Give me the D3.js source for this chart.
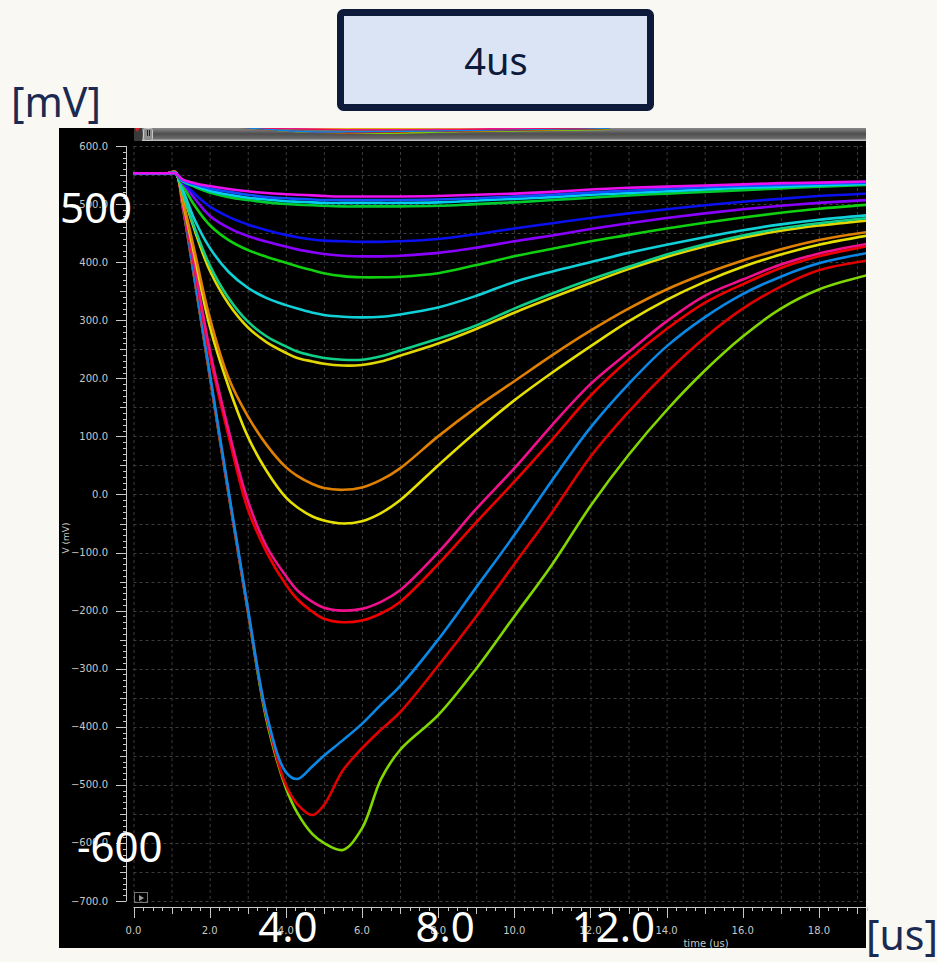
<!DOCTYPE html>
<html>
<head>
<meta charset="utf-8">
<script src="https://cdn.jsdelivr.net/npm/d3@7"></script>
<style>
  html, body { margin: 0; padding: 0; background: #faf8f2; }
  svg { display: block; }
</style>
</head>
<body>
<svg></svg>
<script>
const w = 937;
const h = 962;

// time points (us) shared by every trace
const times = [0, 0.9, 1.1, 1.3, 1.6, 2, 2.5, 3, 3.5, 4, 4.3, 4.7, 5, 5.5, 6, 6.5, 7, 8, 9, 10, 11, 12, 13, 14, 15, 16, 17, 18, 19.3];

// traces in mV
const magentaTop = [553, 553, 553, 542, 536, 531, 526, 522, 519, 517, 516, 515, 514, 513, 513, 513, 513, 514, 516, 518, 521, 525, 528, 530, 532, 534, 536, 537, 539];
const blueTop = [553, 553, 553, 541, 534, 527, 521, 516, 512, 510, 509, 508, 507, 507, 507, 507, 507, 508, 510, 513, 516, 520, 523, 526, 529, 531, 533, 535, 537];
const cyanTop = [553, 553, 553, 540, 532, 523, 516, 511, 508, 505, 504, 503, 502, 502, 502, 502, 502, 503, 506, 509, 512, 516, 519, 522, 525, 528, 530, 532, 535];
const greenTop = [553, 553, 553, 539, 530, 520, 512, 507, 503, 500, 499, 498, 497, 496, 496, 496, 496, 497, 500, 503, 507, 511, 515, 518, 521, 524, 527, 530, 533];
const blue = [553, 553, 553, 538, 518, 496, 478, 465, 455, 447, 443, 439, 437, 436, 435, 435, 436, 440, 448, 458, 467, 476, 484, 491, 498, 504, 509, 514, 518];
const violet = [553, 553, 553, 536, 510, 480, 459, 445, 435, 427, 422, 417, 414, 411, 410, 410, 411, 416, 425, 436, 446, 457, 467, 476, 484, 491, 497, 502, 507];
const green = [553, 553, 553, 532, 498, 464, 438, 421, 409, 399, 393, 386, 381, 376, 374, 374, 375, 381, 395, 410, 423, 436, 447, 458, 468, 477, 485, 492, 499];
const cyan = [553, 553, 553, 524, 474, 425, 383, 356, 338, 326, 320, 313, 309, 306, 305, 306, 310, 322, 342, 366, 384, 400, 416, 430, 443, 455, 465, 473, 481];
const teal = [553, 553, 553, 518, 460, 395, 338, 298, 272, 255, 246, 239, 235, 232, 232, 238, 248, 268, 291, 320, 346, 370, 392, 413, 431, 446, 458, 467, 476];
const yellow = [553, 553, 553, 517, 456, 386, 328, 288, 262, 244, 235, 229, 225, 222, 223, 229, 239, 260, 285, 313, 339, 364, 388, 409, 427, 442, 454, 463, 472];
const orange = [553, 553, 555, 505, 420, 305, 200, 135, 85, 47, 32, 18, 11, 8, 12, 25, 45, 100, 150, 195, 240, 282, 320, 353, 380, 403, 422, 438, 452];
const yellow2 = [553, 553, 555, 503, 412, 290, 185, 100, 40, -5, -22, -38, -45, -50, -46, -32, -10, 50, 108, 162, 210, 255, 298, 335, 366, 392, 413, 430, 446];
const pink = [553, 553, 555, 498, 395, 250, 110, -10, -90, -140, -165, -185, -195, -200, -197, -185, -165, -100, -25, 45, 120, 190, 245, 298, 342, 370, 396, 415, 432];
const red = [553, 553, 555, 496, 390, 240, 100, -25, -100, -155, -180, -202, -214, -220, -217, -205, -185, -120, -48, 22, 95, 170, 232, 285, 330, 362, 390, 410, 428];
const skyBlue = [553, 553, 555, 494, 375, 210, 5, -195, -380, -478, -490, -468, -450, -423, -395, -362, -330, -250, -160, -70, 25, 115, 190, 255, 305, 345, 375, 398, 416];
const deepRed = [553, 553, 555, 493, 372, 205, 0, -200, -385, -500, -533, -552, -535, -475, -437, -405, -375, -295, -210, -120, -30, 65, 142, 210, 270, 320, 358, 386, 403];
const limeGreen = [553, 553, 555, 493, 372, 205, 0, -200, -390, -505, -548, -585, -600, -612, -575, -490, -440, -380, -300, -210, -120, -20, 68, 145, 213, 272, 320, 353, 378];

const traces = [limeGreen, deepRed, skyBlue, red, pink, yellow2, orange, yellow, teal, cyan, green, violet, blue, greenTop, cyanTop, blueTop, magentaTop];
const traceColors = ['#80d800', '#e00000', '#0a88e8', '#ee0000', '#f0108c', '#e6e000', '#e08000', '#e2d600', '#10d088', '#10d0d8', '#10d010', '#8a00ff', '#0a10f0', '#00cc30', '#00d0f0', '#1050ff', '#ee10ee'];

const yTicks = d3.range(-700, 601, 100);
const xTicks = d3.range(0, 19, 2);
const bigYLabels = ['500', '-600'];
const bigYValues = [500, -600];
const bigXLabels = ['4.0', '8.0', '12.0'];
const bigXValues = [4, 8, 12];

const svg = d3.select('svg').attr('width', w).attr('height', h);

svg.append('rect').attr('width', w).attr('height', h).attr('fill', '#faf8f2');

// title box
svg
  .append('rect')
  .attr('x', 340.5)
  .attr('y', 12.5)
  .attr('width', 310)
  .attr('height', 95)
  .attr('rx', 3)
  .attr('fill', '#dbe4f5')
  .attr('stroke', '#0d1a3a')
  .attr('stroke-width', 7);

svg
  .append('text')
  .text('4us')
  .attr('x', 496)
  .attr('y', 75)
  .attr('text-anchor', 'middle')
  .style('font-family', 'Noto Sans')
  .style('font-size', '38px')
  .style('fill', '#0d1a3a');

svg
  .append('text')
  .text('[mV]')
  .attr('x', 11)
  .attr('y', 117)
  .style('font-family', 'Noto Sans')
  .style('font-size', '41px')
  .style('fill', '#1a2a50');

// black scope panel
svg.append('rect').attr('x', 59).attr('y', 128).attr('width', 807).attr('height', 820).attr('fill', '#000');

const x = d3.scaleLinear().domain([0, 19.25]).range([133.5, 866.5]);
const y = d3.scaleLinear().domain([-700, 600]).range([901, 146]);

const defs = svg.append('defs');
defs
  .append('clipPath')
  .attr('id', 'plotClip')
  .append('rect')
  .attr('x', 133)
  .attr('y', 140)
  .attr('width', 733)
  .attr('height', 770);

defs
  .append('clipPath')
  .attr('id', 'miniClip')
  .append('rect')
  .attr('x', 230)
  .attr('y', 128)
  .attr('width', 380)
  .attr('height', 6);

const barGrad = defs
  .append('linearGradient')
  .attr('id', 'barGrad')
  .attr('x1', 0)
  .attr('y1', 0)
  .attr('x2', 0)
  .attr('y2', 1);
barGrad.append('stop').attr('offset', '0%').attr('stop-color', '#8a8a8a');
barGrad.append('stop').attr('offset', '45%').attr('stop-color', '#4e4e4e');
barGrad.append('stop').attr('offset', '80%').attr('stop-color', '#6a6a6a');
barGrad.append('stop').attr('offset', '100%').attr('stop-color', '#d0d0d0');

// grid
const grid = svg.append('g').attr('stroke', '#3c3c3c').attr('stroke-dasharray', '3,3').attr('stroke-width', 1);
grid
  .selectAll('.vgrid')
  .data(d3.range(0, 20, 1))
  .enter()
  .append('line')
  .attr('x1', d => x(d) + 0.5)
  .attr('x2', d => x(d) + 0.5)
  .attr('y1', y(600))
  .attr('y2', y(-700));
grid
  .selectAll('.hgrid')
  .data(d3.range(-700, 601, 50))
  .enter()
  .append('line')
  .attr('x1', x(0))
  .attr('x2', 866)
  .attr('y1', d => Math.round(y(d)) + 0.5)
  .attr('y2', d => Math.round(y(d)) + 0.5);

// y axis
const axisColor = '#c8c8c8';
svg
  .append('line')
  .attr('x1', 126.5)
  .attr('x2', 126.5)
  .attr('y1', y(600))
  .attr('y2', y(-700))
  .attr('stroke', axisColor);
svg
  .selectAll('.ytick')
  .data(d3.range(-700, 601, 10))
  .enter()
  .append('line')
  .attr('x1', d => (d % 100 === 0 ? 116 : d % 50 === 0 ? 120 : 123))
  .attr('x2', 126.5)
  .attr('y1', d => Math.round(y(d)) + 0.5)
  .attr('y2', d => Math.round(y(d)) + 0.5)
  .attr('stroke', axisColor);
svg
  .selectAll('.ylabel')
  .data(yTicks)
  .enter()
  .append('text')
  .text(d => d3.format('.1f')(d))
  .attr('x', 108)
  .attr('y', d => y(d) + 3.5)
  .attr('text-anchor', 'end')
  .style('font-family', 'DejaVu Sans')
  .style('font-size', '10px')
  .style('fill', axisColor);

svg
  .append('text')
  .text('V (mV)')
  .attr('transform', `translate(69, ${y(-75)}) rotate(-90)`)
  .attr('text-anchor', 'middle')
  .style('font-family', 'DejaVu Sans')
  .style('font-size', '9px')
  .style('fill', axisColor);

// x axis
svg
  .append('line')
  .attr('x1', x(0))
  .attr('x2', 866)
  .attr('y1', 907.5)
  .attr('y2', 907.5)
  .attr('stroke', axisColor);
svg
  .selectAll('.xtick')
  .data(d3.range(0, 19.3, 0.25))
  .enter()
  .append('line')
  .attr('x1', d => Math.round(x(d)) + 0.5)
  .attr('x2', d => Math.round(x(d)) + 0.5)
  .attr('y1', 907.5)
  .attr('y2', d => (d % 2 === 0 ? 918 : d % 1 === 0 ? 914 : 911))
  .attr('stroke', axisColor);
svg
  .selectAll('.xlabel')
  .data(xTicks)
  .enter()
  .append('text')
  .text(d => d3.format('.1f')(d))
  .attr('x', d => x(d))
  .attr('y', 934)
  .attr('text-anchor', 'middle')
  .style('font-family', 'DejaVu Sans')
  .style('font-size', '10px')
  .style('fill', axisColor);

svg
  .append('text')
  .text('time (us)')
  .attr('x', 706)
  .attr('y', 947)
  .attr('text-anchor', 'middle')
  .style('font-family', 'DejaVu Sans')
  .style('font-size', '10px')
  .style('fill', axisColor);

// play button
svg
  .append('rect')
  .attr('x', 134.5)
  .attr('y', 892.5)
  .attr('width', 13)
  .attr('height', 10)
  .attr('fill', 'none')
  .attr('stroke', '#777');
svg.append('path').attr('d', 'M139,895 L139,901 L144,898 Z').attr('fill', '#999');

// top scroll bar
svg
  .append('rect')
  .attr('x', 134)
  .attr('y', 128)
  .attr('width', 732)
  .attr('height', 13)
  .attr('fill', 'url(#barGrad)');
svg.append('rect').attr('x', 134).attr('y', 128).attr('width', 8).attr('height', 13).attr('fill', '#3a3a3a');
svg.append('path').attr('d', 'M135,128 L140,128 L137,132 Z').attr('fill', '#e02020');
svg
  .append('rect')
  .attr('x', 143.5)
  .attr('y', 128.5)
  .attr('width', 9)
  .attr('height', 12)
  .attr('rx', 2)
  .attr('fill', '#8c8c8c')
  .attr('stroke', '#c8c8c8');
svg.append('line').attr('x1', 147.5).attr('x2', 147.5).attr('y1', 130).attr('y2', 136).attr('stroke', '#222');
svg.append('line').attr('x1', 149.5).attr('x2', 149.5).attr('y1', 130).attr('y2', 136).attr('stroke', '#222');

// mini overview in the scroll bar
const xMini = d3.scaleLinear().domain([0, 19.25]).range([123, 1047]);
const yMini = d3.scaleLinear().domain([-700, 600]).range([134, 122]);
const miniLine = d3
  .line()
  .x((d, i) => xMini(times[i]))
  .y(d => yMini(d))
  .curve(d3.curveMonotoneX);
svg
  .append('g')
  .attr('clip-path', 'url(#miniClip)')
  .selectAll('path')
  .data(traces)
  .enter()
  .append('path')
  .attr('d', d => miniLine(d))
  .attr('fill', 'none')
  .attr('stroke', (d, i) => traceColors[i])
  .attr('stroke-width', 1.5);

// traces
const line = d3
  .line()
  .x((d, i) => x(times[i]))
  .y(d => y(d))
  .curve(d3.curveCatmullRom.alpha(0.5));

svg
  .append('g')
  .attr('clip-path', 'url(#plotClip)')
  .selectAll('.trace')
  .data(traces)
  .enter()
  .append('path')
  .attr('class', 'trace')
  .attr('d', d => line(d))
  .attr('fill', 'none')
  .attr('stroke', (d, i) => traceColors[i])
  .attr('stroke-width', 2.6)
  .attr('stroke-linejoin', 'round');

// big overlay labels
svg
  .selectAll('.bigy')
  .data(bigYLabels)
  .enter()
  .append('text')
  .text(d => d)
  .attr('x', (d, i) => (i === 0 ? 60 : 77))
  .attr('y', (d, i) => y(bigYValues[i]) + 19)
  .style('font-family', 'Noto Sans')
  .style('font-size', '42px')
  .style('fill', '#fff');

svg
  .selectAll('.bigx')
  .data(bigXLabels)
  .enter()
  .append('text')
  .text(d => d)
  .attr('x', (d, i) => x(bigXValues[i]) + [2, 7, 23][i])
  .attr('y', 942)
  .attr('text-anchor', 'middle')
  .style('font-family', 'Noto Sans')
  .style('font-size', '42px')
  .style('fill', '#fff');

svg
  .append('text')
  .text('[us]')
  .attr('x', 866)
  .attr('y', 950)
  .style('font-family', 'Noto Sans')
  .style('font-size', '41px')
  .style('fill', '#1a2a50');
</script>
</body>
</html>
